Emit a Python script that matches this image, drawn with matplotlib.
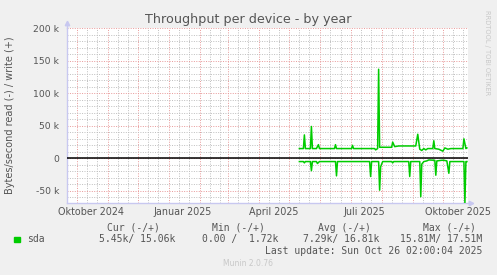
import matplotlib
matplotlib.use("Agg")
from matplotlib import pyplot as plt
import matplotlib.dates as mdates
import matplotlib.transforms as mtransforms
import pandas as pd

# write series (positive), kB/s
write_dates = ["2025-05-11", "2025-05-15", "2025-05-16", "2025-05-17", "2025-05-22", "2025-05-23",
               "2025-05-24", "2025-05-28", "2025-05-30", "2025-05-31", "2025-06-15", "2025-06-16",
               "2025-06-17", "2025-07-02", "2025-07-03", "2025-07-04", "2025-07-25", "2025-07-26",
               "2025-07-28", "2025-07-29", "2025-07-30", "2025-08-11", "2025-08-12", "2025-08-14",
               "2025-08-18", "2025-09-04", "2025-09-06", "2025-09-08", "2025-09-10", "2025-09-12",
               "2025-09-14", "2025-09-16", "2025-09-21", "2025-09-22", "2025-09-23", "2025-09-27",
               "2025-10-01", "2025-10-03", "2025-10-06", "2025-10-09", "2025-10-21", "2025-10-22",
               "2025-10-24", "2025-10-25"]
write_vals = [15, 15, 36, 15, 15, 49,
              15, 15, 21, 15, 15, 21,
              15, 15, 20, 15, 15, 13,
              15, 137, 17, 17, 25, 18,
              19, 19, 37, 14, 12, 15,
              13, 15, 15, 27, 15, 14,
              11, 16, 14, 15, 15, 30,
              15, 16]

# read series (negative), kB/s
read_dates = ["2025-05-11", "2025-05-15", "2025-05-16", "2025-05-17", "2025-05-22", "2025-05-23",
              "2025-05-24", "2025-05-28", "2025-05-29", "2025-05-31", "2025-06-16", "2025-06-17",
              "2025-06-18", "2025-07-20", "2025-07-21", "2025-07-22", "2025-07-29", "2025-07-30",
              "2025-07-31", "2025-08-02", "2025-08-11", "2025-08-12", "2025-08-13", "2025-08-28",
              "2025-08-29", "2025-08-30", "2025-09-08", "2025-09-09", "2025-09-10", "2025-09-12",
              "2025-09-15", "2025-09-17", "2025-09-23", "2025-09-24", "2025-09-25", "2025-09-30",
              "2025-10-02", "2025-10-05", "2025-10-07", "2025-10-08", "2025-10-22", "2025-10-23",
              "2025-10-24", "2025-10-25"]
read_vals = [-5, -5, -7, -5, -5, -19,
             -5, -5, -8, -5, -5, -27,
             -5, -5, -28, -5, -5, -49,
             -13, -5, -5, -7, -5, -5,
             -28, -5, -5, -59, -9, -5,
             -4, -2.5, -3, -26, -4, -3,
             -3, -4, -23, -5, -5, -69,
             -5, -5]

x_labels = ["Oktober 2024", "Januar 2025", "April 2025", "Juli 2025", "Oktober 2025"]
x_label_dates = ["2024-10-15", "2025-01-15", "2025-04-15", "2025-07-15", "2025-10-16"]
y_ticks = [-50000, 0, 50000, 100000, 150000, 200000]
y_ticklabels = ["-50 k", "0", "50 k", "100 k", "150 k", "200 k"]

legend_headers = ["Cur (-/+)", "Min (-/+)", "Avg (-/+)", "Max (-/+)"]
legend_values = ["5.45k/ 15.06k", "0.00 /  1.72k", "7.29k/ 16.81k", "15.81M/ 17.51M"]

GREEN = "#00CC00"
BG = "#F0F0F0"
AXCOL = "#C8C8F0"
W, H = 497, 275


def fx(px):
    return px / W


def fy(py):
    return 1 - py / H


fig = plt.figure(figsize=(4.97, 2.75), dpi=100, facecolor=BG)
ax = fig.add_axes([fx(66.7), fy(203.3), fx(468) - fx(66.7), fy(28.3) - fy(203.3)])
ax.set_facecolor("white")

wd = pd.to_datetime(write_dates)
rd = pd.to_datetime(read_dates)
ax.plot(wd, [v * 1000 for v in write_vals], color=GREEN, lw=1.1, zorder=4)
ax.plot(rd, [v * 1000 for v in read_vals], color=GREEN, lw=1.1, zorder=4)
ax.axhline(0, color="black", lw=1.1, zorder=5)

ax.set_xlim(pd.Timestamp("2024-09-21 02:00"), pd.Timestamp("2025-10-26 02:00"))
ax.set_ylim(-69200, 200000)

# grid
ax.xaxis.set_major_locator(mdates.MonthLocator())
ax.xaxis.set_minor_locator(mdates.DayLocator(bymonthday=[11, 21]))
ax.set_yticks(y_ticks)
ax.set_yticklabels(y_ticklabels)
ax.set_yticks(range(-60000, 200001, 10000), minor=True)
ax.grid(which="major", color="#E89898", linestyle=(0, (1, 1.5)), lw=0.7, zorder=1)
ax.grid(which="minor", color="#BEBEBE", linestyle=(0, (1, 1.5)), lw=0.7, zorder=0)
ax.set_axisbelow(True)
ax.tick_params(axis="x", which="both", length=0, labelbottom=False)
ax.tick_params(axis="y", which="major", length=0, pad=5.3, labelsize=6.7, labelcolor="#555555")
ax.tick_params(axis="y", which="minor", length=0)

for s in ["top", "right"]:
    ax.spines[s].set_visible(False)
for s in ["left", "bottom"]:
    ax.spines[s].set_color(AXCOL)
    ax.spines[s].set_linewidth(1.0)

# axis arrows
fig.add_artist(plt.Line2D([fx(66.7), fx(66.7)], [fy(28.3), fy(23)], color=AXCOL, lw=1.0))
fig.add_artist(plt.Line2D([fx(468), fx(471)], [fy(203.3), fy(203.3)], color=AXCOL, lw=1.0))
fig.add_artist(plt.Line2D([fx(66.7)], [fy(23)], marker="^", ms=3.2, color=AXCOL, lw=0))
fig.add_artist(plt.Line2D([fx(471)], [fy(203.3)], marker=">", ms=3.2, color=AXCOL, lw=0))

# x labels at mid-quarter months
trans = mtransforms.blended_transform_factory(ax.transData, fig.transFigure)
for d, lab in zip(pd.to_datetime(x_label_dates), x_labels):
    ax.text(mdates.date2num(d), fy(212.3), lab, transform=trans, ha="center", va="center",
            fontsize=6.9, color="#555555")

fig.text(fx(248), fy(19), "Throughput per device - by year", ha="center", va="center",
         fontsize=9.2, color="#555555")
fig.text(fx(10), fy(115), "Bytes/second read (-) / write (+)", rotation=90, ha="center",
         va="center", fontsize=7, color="#555555")
fig.text(fx(487.3), fy(53), "RRDTOOL / TOBI OETIKER", rotation=-90, ha="center", va="center",
         fontsize=4.8, color="#C8C8C8")

# legend
mono = "DejaVu Sans Mono"
for x, t in zip([107.3, 212.3, 318.3, 422.7], legend_headers):
    fig.text(fx(x), fy(227.7), t, family=mono, fontsize=7, color="#555555", ha="left", va="center")
fig.patches.append(plt.Rectangle((fx(14), fy(242.3)), fx(5.5), fy(0) - fy(5.5),
                                 transform=fig.transFigure, color=GREEN, figure=fig))
fig.text(fx(26.7), fy(239.3), "sda", family=mono, fontsize=7, color="#555555", ha="left", va="center")
for x, t in zip([99.3, 201.7, 303.3, 400], legend_values):
    fig.text(fx(x), fy(239.3), t, family=mono, fontsize=7, color="#555555", ha="left", va="center")
fig.text(fx(482.7), fy(251), "Last update: Sun Oct 26 02:00:04 2025", family=mono, fontsize=7,
         color="#555555", ha="right", va="center")
fig.text(fx(248), fy(264), "Munin 2.0.76", fontsize=5.5, color="#C8C8C8", ha="center", va="center")

plt.savefig("out.png", dpi=100, facecolor=BG)
